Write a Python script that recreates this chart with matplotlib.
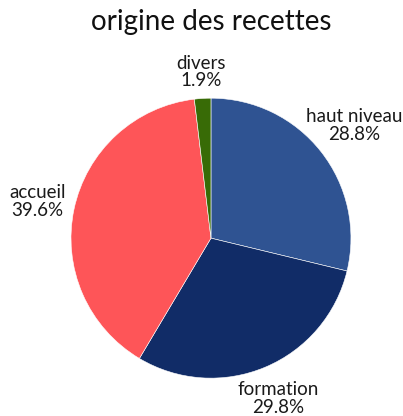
import numpy as np
import matplotlib.pyplot as plt

# data
names = ['haut niveau', 'formation', 'accueil', 'divers']
shares = [28.8, 29.8, 39.6, 1.9]
colors = ['#2f5392', '#112c67', '#fe5558', '#386b06']

# how far out each label sits (in pie radii)
label_dist = [1.30, 1.245, 1.265, 1.19]

labels = [f"{n}\n{v}%" for n, v in zip(names, shares)]

fig = plt.figure(figsize=(4.03, 4.16), dpi=100)
ax = fig.add_axes([0.176, 0.091, 0.695, 0.673])

wedges, texts = ax.pie(shares, labels=labels, colors=colors, startangle=90,
                       counterclock=False, labeldistance=1.25,
                       wedgeprops=dict(edgecolor='white', linewidth=0.4),
                       textprops=dict(fontsize=13.5, family='Lato', color='#1a1a1a'))
for w, t, d in zip(wedges, texts, label_dist):
    ang = np.deg2rad((w.theta1 + w.theta2) / 2)
    t.set_position((d * np.cos(ang), d * np.sin(ang)))
    t.set_ha('center')
    t.set_va('center')
    t.set_linespacing(1.05)

ax.set_xlim(-1, 1)
ax.set_ylim(-1, 1)
ax.set_aspect('equal')

fig.text(0.524, 0.947, 'origine des recettes', ha='center', va='center',
         fontsize=20, family='Lato', color='#111111')

fig.savefig('out.png', dpi=100)
